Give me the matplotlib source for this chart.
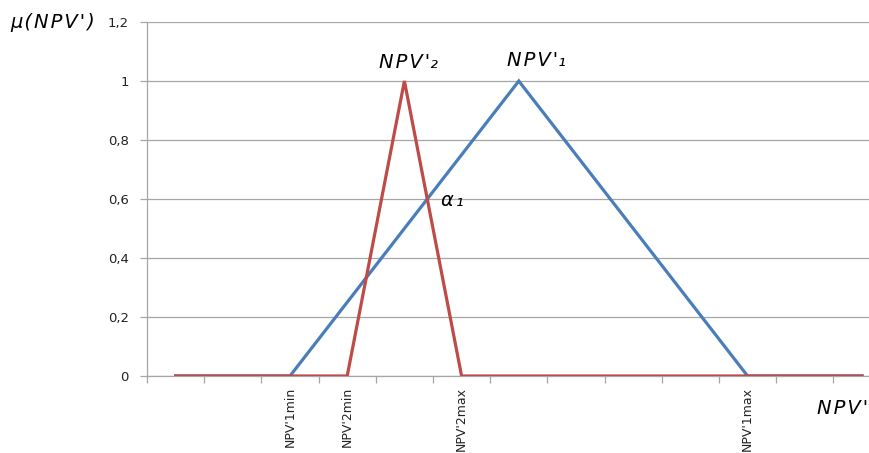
import matplotlib
matplotlib.use("Agg")
import matplotlib.pyplot as plt
from matplotlib import font_manager

# category positions along the NPV' axis (13 slots, only some are labelled)
categories = ["", "", "NPV'1min", "NPV'2min", "", "NPV'2max", "", "", "", "",
              "NPV'1max", "", ""]
npv1 = [0, 0, 0, 0.25, 0.5, 0.75, 1, 0.75, 0.5, 0.25, 0, 0, 0]
npv2 = [0, 0, 0, 0, 1, 0, 0, 0, 0, 0, 0, 0, 0]
yticks = [0, 0.2, 0.4, 0.6, 0.8, 1.0, 1.2]
ytick_labels = ["0", "0,2", "0,4", "0,6", "0,8", "1", "1,2"]

blue = "#4a7ebb"
red = "#be4b48"
grid = "#a6a6a6"

names = {f.name for f in font_manager.fontManager.ttflist}
narrow = "Liberation Sans Narrow" if "Liberation Sans Narrow" in names else "DejaVu Sans"

fig = plt.figure(figsize=(8.69, 4.53), dpi=100)
ax = fig.add_axes([147 / 869, 77 / 453, 722 / 869, 354 / 453])

x = list(range(len(categories)))
ax.plot(x, npv1, color=blue, lw=2.3, solid_joinstyle="miter", zorder=3)
ax.plot(x, npv2, color=red, lw=2.3, solid_joinstyle="miter", zorder=4)

ax.set_yticks(yticks)
ax.set_yticklabels(ytick_labels, fontsize=9.5, color="#222222")
ax.yaxis.grid(True, color=grid, lw=0.9)
ax.set_axisbelow(True)

ax.set_xticks(x)
ax.set_xticklabels(categories, rotation=90, fontsize=9, color="#222222",
                   va="top", ha="center", family=narrow)
ax.set_xticks([i - 0.5 for i in x] + [len(categories) - 0.5], minor=True)
ax.tick_params(axis="x", which="major", length=0, pad=8)
ax.tick_params(axis="x", which="minor", length=5, color=grid, width=0.9)
ax.tick_params(axis="y", length=5, color=grid, width=0.9, pad=8)

ax.set_ylim(0, 1.2)
ax.set_xlim(-0.5, len(categories) - 1 + 7 / 57.2)

for s in ["top", "right"]:
    ax.spines[s].set_visible(False)
for s in ["left", "bottom"]:
    ax.spines[s].set_color(grid)
    ax.spines[s].set_linewidth(0.9)


def spaced(s):
    return "\u200a".join(s)


# annotations
kw = dict(fontsize=14, style="italic", va="center", ha="left")
fig.text(10 / 869, 1 - 23 / 453, spaced("\u03bc(NPV')"), **kw)
fig.text(379 / 869, 1 - 63 / 453, spaced("NPV'") + "\u2082", **kw)
fig.text(507 / 869, 1 - 60 / 453, spaced("NPV'") + "\u2081", **kw)
fig.text(441 / 869, 1 - 200 / 453, "\u03b1\u200a\u2081", **kw)
fig.text(817 / 869, 1 - 408 / 453, spaced("NPV'"), **kw)

fig.savefig("out.png", dpi=100)
